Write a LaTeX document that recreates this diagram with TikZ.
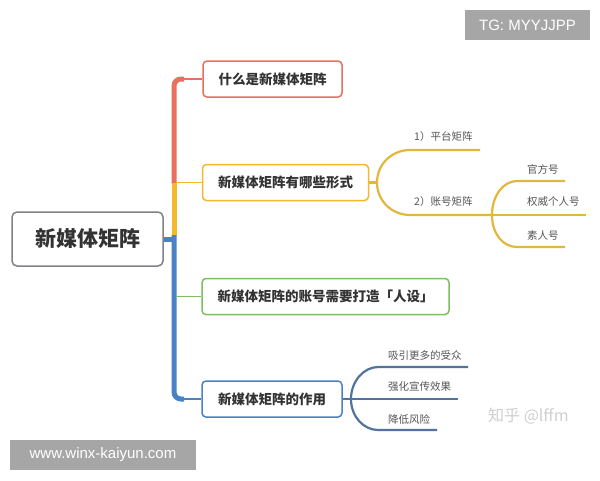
\documentclass[tikz,border=0pt]{standalone}
\usepackage{fontspec}
\setmainfont{Noto Sans CJK SC}
\newfontfamily\wmfont{Liberation Sans}
\definecolor{cred}{HTML}{E8705F}
\definecolor{cyel}{HTML}{F2B92C}
\definecolor{cyelline}{HTML}{E3B73C}
\definecolor{cgreen}{HTML}{7DBE62}
\definecolor{cblue}{HTML}{4A82C6}
\definecolor{cblueline}{HTML}{52739E}
\definecolor{cgray}{HTML}{7F8288}
\definecolor{ctext}{HTML}{333333}
\definecolor{csub}{HTML}{555555}
\definecolor{cwm}{HTML}{A6A6A6}
\definecolor{czh}{HTML}{CFCFCF}
\tikzset{
  x=1pt,y=-1pt,
  topic/.style={draw=#1, line width=1.5pt, rounded corners=4pt, fill=white, text=ctext,
    font=\fontsize{13.5}{15}\selectfont\bfseries, inner sep=0pt, minimum height=36pt},
  sublabel/.style={anchor=west, inner sep=0pt, text=csub, font=\fontsize{10.5}{12}\selectfont},
  trunk/.style={line width=5pt, draw=#1},
  conn/.style={line width=1.8pt, draw=#1},
  subline/.style={line width=2.2pt, draw=#1},
  wm/.style={fill=cwm, text=white, inner sep=0pt, font=\wmfont\fontsize{15}{17}\selectfont}
}
\begin{document}
\begin{tikzpicture}
\useasboundingbox (0,0) rectangle (600,480);
\fill[white] (0,0) rectangle (600,480);

% trunk
\draw[trunk=cred, rounded corners=7pt] (174,184) |- (184,79);
\draw[trunk=cyel] (174,183) -- (174,236);
\draw[trunk=cblue, rounded corners=7pt] (174,235) |- (184,399);

% nodes
\node[draw=cgray, line width=1.5pt, rounded corners=5pt, fill=white, text=ctext,
  minimum width=151pt, minimum height=54pt, inner sep=0pt,
  font=\fontsize{21}{24}\selectfont\bfseries] (root) at (87.5,239) {新媒体矩阵};
\node[topic=cred, minimum width=139pt] (b1) at (272.5,79) {什么是新媒体矩阵};
\node[topic=cyel, minimum width=166pt] (b2) at (285.5,182.5) {新媒体矩阵有哪些形式};
\node[topic=cgreen, minimum width=247pt] (b3) at (325.5,296.5) {新媒体矩阵的账号需要打造「人设」};
\node[topic=cblue, minimum width=140pt] (b4) at (272,399) {新媒体矩阵的作用};

\coordinate (t0) at (174,239);
\coordinate (t1) at (180,79);
\coordinate (t2) at (176,182.5);
\coordinate (t3) at (176,296.5);
\coordinate (t4) at (180,399);
\draw[trunk=cblue] (root.east) -- (t0);
\draw[conn=cred] (t1) -- (b1.west);
\draw[conn=cyel] (t2) -- (b2.west);
\draw[conn=cgreen] (t3) -- (b3.west);
\draw[conn=cblue] (t4) -- (b4.west);

% sub-branches of b2
\coordinate (j2) at (377,182.5);
\coordinate (p1) at (480,150);
\coordinate (p2) at (492,215);
\draw[subline=cyelline] (b2.east) -- (j2);
\draw[subline=cyelline] (j2) .. controls (377,164) and (392,150) .. (410,150) -- (p1);
\draw[subline=cyelline] (j2) .. controls (377,201) and (392,215) .. (410,215) -- (p2);
\node[sublabel] (l1) at (414,137) {1）平台矩阵};
\node[sublabel] (l2) at (414,202) {2）账号矩阵};

\coordinate (q1) at (565,181);
\coordinate (q2) at (586,215);
\coordinate (q3) at (565,247);
\draw[subline=cyelline] (p2) .. controls (492,196) and (503,181) .. (517,181) -- (q1);
\draw[subline=cyelline] (p2) -- (q2);
\draw[subline=cyelline] (p2) .. controls (492,234) and (503,247) .. (517,247) -- (q3);
\node[sublabel] (l3) at (527,169) {官方号};
\node[sublabel] (l4) at (527,202) {权威个人号};
\node[sublabel] (l5) at (527,235) {素人号};

% sub-branches of b4
\coordinate (j4) at (351,399);
\coordinate (r1) at (468,367);
\coordinate (r2) at (458,399);
\coordinate (r3) at (437,430);
\draw[subline=cblueline] (b4.east) -- (j4);
\draw[subline=cblueline] (j4) .. controls (351,381) and (364,367) .. (378,367) -- (r1);
\draw[subline=cblueline] (j4) -- (r2);
\draw[subline=cblueline] (j4) .. controls (351,417) and (364,430) .. (378,430) -- (r3);
\node[sublabel] (m1) at (388,355) {吸引更多的受众};
\node[sublabel] (m2) at (388,387) {强化宣传效果};
\node[sublabel] (m3) at (388,419) {降低风险};

% watermarks
\node[text=czh, anchor=west, inner sep=0pt, font=\fontsize{16}{18}\selectfont] (zh) at (488,416) {知乎 @lffm};
\node[wm, minimum width=125pt, minimum height=30pt] (tg) at (527.5,25) {TG: MYYJJPP};
\node[wm, minimum width=186pt, minimum height=30pt] (url) at (103,455) {www.winx-kaiyun.com};
\end{tikzpicture}
\end{document}
